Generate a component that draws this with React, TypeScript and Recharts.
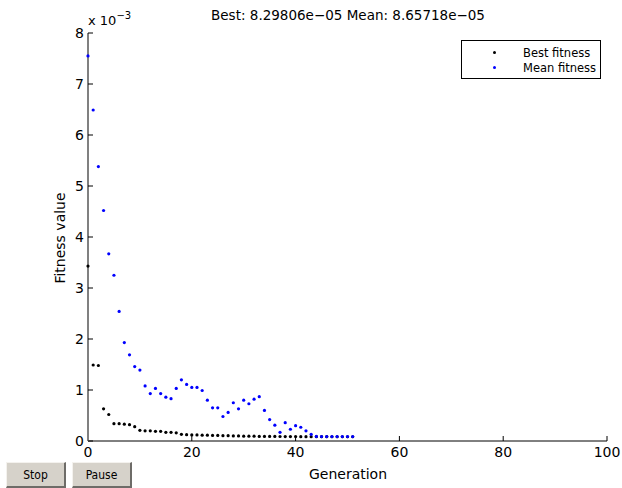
import { Legend, Scatter, ScatterChart, XAxis, YAxis } from "recharts"

// generation index (x) and fitness values, in units of 1e-3
const generations = [
    0, 1, 2, 3, 4, 5, 6, 7, 8, 9, 10, 11, 12, 13, 14, 15, 16, 17, 18, 19, 20, 21, 22, 23, 24, 25,
    26, 27, 28, 29, 30, 31, 32, 33, 34, 35, 36, 37, 38, 39, 40, 41, 42, 43, 44, 45, 46, 47, 48, 49, 50, 51,
]
const bestFitness = [
    3.43, 1.49, 1.48, 0.63, 0.52, 0.34, 0.34, 0.33, 0.32, 0.28, 0.21, 0.2, 0.2, 0.19, 0.19, 0.17, 0.17, 0.16,
    0.13, 0.125, 0.12, 0.12, 0.115, 0.115, 0.11, 0.11, 0.105, 0.105, 0.1, 0.1, 0.095, 0.095, 0.095, 0.09,
    0.09, 0.09, 0.09, 0.088, 0.087, 0.086, 0.086, 0.085, 0.085, 0.085, 0.084, 0.084, 0.084, 0.083, 0.083,
    0.083, 0.083, 0.083,
]
const meanFitness = [
    7.55, 6.49, 5.38, 4.52, 3.67, 3.25, 2.54, 1.93, 1.69, 1.46, 1.39, 1.08, 0.93, 1.03, 0.93, 0.86, 0.83,
    1.03, 1.2, 1.11, 1.05, 1.05, 0.99, 0.8, 0.65, 0.65, 0.48, 0.56, 0.75, 0.63, 0.8, 0.73, 0.82, 0.87, 0.6,
    0.42, 0.31, 0.17, 0.36, 0.23, 0.3, 0.27, 0.2, 0.13, 0.09, 0.087, 0.087, 0.087, 0.087, 0.087, 0.087, 0.087,
]
const xTicks = [0, 20, 40, 60, 80, 100]
const yTicks = [0, 1, 2, 3, 4, 5, 6, 7, 8]

const best = generations.map((g, i) => ({ gen: g, value: bestFitness[i] }))
const mean = generations.map((g, i) => ({ gen: g, value: meanFitness[i] }))

const font = "'DejaVu Sans', sans-serif"

const dot = (color: string) => (props: any) => <circle cx={props.cx} cy={props.cy} r={1.6} fill={color} />

function LegendBox() {
    const rows = [
        { label: "Best fitness", color: "#000000" },
        { label: "Mean fitness", color: "#0000ff" },
    ]
    return (
        <div style={{ border: "1px solid #000", background: "#fff", width: 140, height: 39, fontFamily: font, fontSize: 11.5, paddingTop: 4, boxSizing: "border-box", whiteSpace: "nowrap" }}>
            {rows.map((r) => (
                <div key={r.label} style={{ display: "flex", alignItems: "center", height: 15 }}>
                    <span style={{ display: "inline-block", width: 3, height: 3, borderRadius: 2, background: r.color, marginLeft: 31, marginRight: 27 }} />
                    <span>{r.label}</span>
                </div>
            ))}
        </div>
    )
}

const buttonStyle = {
    position: "absolute" as const,
    top: 462,
    height: 26,
    background: "#d6d2ca",
    borderTop: "1px solid #f4f2ee",
    borderLeft: "1px solid #f4f2ee",
    borderRight: "2px solid #6e6c68",
    borderBottom: "2px solid #6e6c68",
    boxSizing: "border-box" as const,
    fontFamily: "'Liberation Sans Narrow', 'DejaVu Sans Condensed', sans-serif",
    fontSize: 12,
    display: "flex",
    alignItems: "center",
    justifyContent: "center",
    color: "#000",
}

export default function App() {
    return (
        <div style={{ position: "fixed", left: 0, top: 0, width: 622, height: 488, background: "#fff", overflow: "hidden" }}>
            <ScatterChart width={622} height={488} margin={{ top: 33, right: 15, bottom: 17, left: 0 }}>
                <XAxis
                    type="number"
                    dataKey="gen"
                    domain={[0, 100]}
                    ticks={xTicks}
                    height={30}
                    stroke="#000"
                    tickSize={-5}
                    tickMargin={11}
                    tick={{ fill: "#000", fontSize: 14, fontFamily: font }}
                />
                <YAxis
                    type="number"
                    dataKey="value"
                    domain={[0, 8]}
                    ticks={yTicks}
                    width={88}
                    axisLine={{ stroke: "#808080", strokeWidth: 2 }}
                    tickLine={{ stroke: "#000" }}
                    tickSize={-5}
                    tickMargin={9}
                    tick={{ fill: "#000", fontSize: 14, fontFamily: font }}
                />
                <Scatter name="Best fitness" data={best} shape={dot("#000000")} isAnimationActive={false} />
                <Scatter name="Mean fitness" data={mean} shape={dot("#0000ff")} isAnimationActive={false} />
                <Legend
                    layout="vertical"
                    align="center"
                    verticalAlign="middle"
                    content={() => <LegendBox />}
                    wrapperStyle={{ position: "absolute", top: 40, left: 461, width: 140 }}
                />
            </ScatterChart>
            <div style={{ position: "absolute", top: 7, left: 348, transform: "translateX(-50%)", fontFamily: font, fontSize: 13.5, whiteSpace: "nowrap" }}>
                Best: 8.29806e−05 Mean: 8.65718e−05
            </div>
            <div style={{ position: "absolute", top: 10, left: 88, fontFamily: font, fontSize: 13, whiteSpace: "nowrap" }}>
                x 10<sup style={{ fontSize: 10, verticalAlign: "6px" }}>−3</sup>
            </div>
            <div style={{ position: "absolute", top: 466, left: 348, transform: "translateX(-50%)", fontFamily: font, fontSize: 14, whiteSpace: "nowrap" }}>
                Generation
            </div>
            <div style={{ position: "absolute", top: 238, left: 60, transform: "translate(-50%, -50%) rotate(-90deg)", fontFamily: font, fontSize: 14, whiteSpace: "nowrap" }}>
                Fitness value
            </div>
            <div style={{ ...buttonStyle, left: 6, width: 60 }}>Stop</div>
            <div style={{ ...buttonStyle, left: 72, width: 60 }}>Pause</div>
        </div>
    )
}
